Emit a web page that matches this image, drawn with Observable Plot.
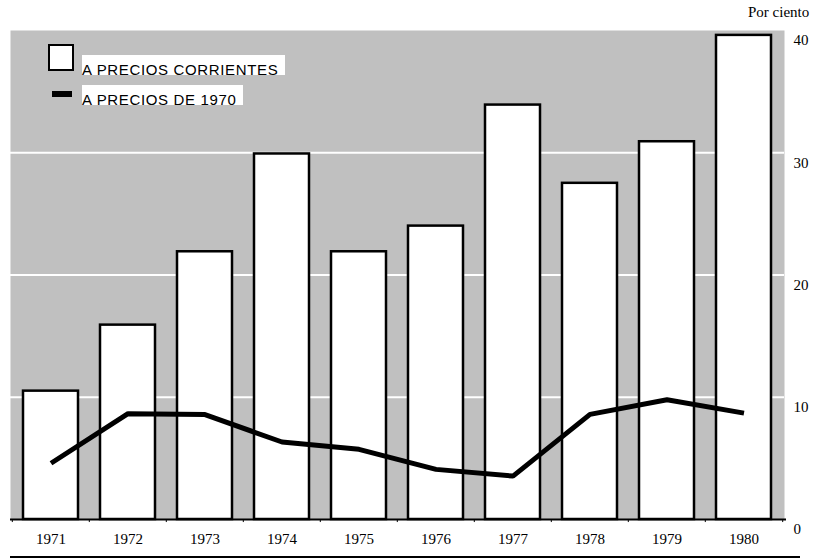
<!DOCTYPE html>
<html>
<head>
<meta charset="utf-8">
<script src="https://cdn.jsdelivr.net/npm/d3@7"></script>
<script src="https://cdn.jsdelivr.net/npm/@observablehq/plot@0.6"></script>
<style>
  html, body { margin: 0; padding: 0; background: #fff; }
  #wrap { position: relative; width: 815px; height: 558px; overflow: hidden; }
  #wrap svg { position: absolute; left: 0; top: 0; }
  .unit { position: absolute; left: 748px; top: 4px; font-family: "Liberation Serif", serif; font-size: 15px; color: #000; }
  .lg-box { position: absolute; left: 48px; top: 44px; width: 22px; height: 23px; border: 2px solid #000; background: #fff; }
  .lg-dash { position: absolute; left: 52px; top: 91px; width: 20px; height: 6px; background: #000; }
  .lg-text { position: absolute; left: 82px; background: #fff; font-family: "Liberation Sans", Arial, sans-serif; font-size: 15px; letter-spacing: 0.65px; line-height: 20px; padding-top: 5px; height: 15px; color: #000; padding-right: 7px; white-space: nowrap; }
  .bottom-line { position: absolute; left: 10px; top: 556px; width: 790px; height: 1.5px; background: #000; }
</style>
</head>
<body>
<div id="wrap">
  <div class="unit">Por ciento</div>
</div>
<script>
const years = ["1971","1972","1973","1974","1975","1976","1977","1978","1979","1980"];
const corrientes = [10.5, 15.9, 21.9, 29.9, 21.9, 24.0, 33.9, 27.5, 30.9, 39.6];
const precios1970 = [4.6, 8.66, 8.58, 6.34, 5.74, 4.1, 3.55, 8.6, 9.8, 8.7];
const yTicks = [0, 10, 20, 30, 40];
const gridTicks = [10, 20, 30];
const legendLabels = ["A PRECIOS CORRIENTES", "A PRECIOS DE 1970"];

const bars = years.map((y, i) => ({year: y, value: corrientes[i]}));
const line = years.map((y, i) => ({year: y, value: precios1970[i]}));

const W = 815, H = 558;
const mL = 10, mR = 31, mT = 30, mB = 39;
const step = (W - mL - mR) / years.length;
const boundaries = years.map((y, i) => ({year: y, off: -step / 2})).concat([{year: years[years.length - 1], off: step / 2}]);

const chart = Plot.plot({
  width: W,
  height: H,
  marginLeft: mL,
  marginRight: mR,
  marginTop: mT,
  marginBottom: mB,
  style: {background: "transparent", overflow: "visible"},
  x: {type: "band", domain: years, paddingInner: 0.28, paddingOuter: 0.14, label: null},
  y: {domain: [0, 40], label: null},
  marks: [
    Plot.frame({fill: "#c0c0c0", stroke: "none"}),
    Plot.gridY(gridTicks, {stroke: "#fff", strokeOpacity: 1, strokeWidth: 2}),
    Plot.barY(bars, {x: "year", y: "value", fill: "#fff", stroke: "#000", strokeWidth: 2.5}),
    Plot.line(line, {x: "year", y: "value", stroke: "#000", strokeWidth: 5, strokeLinejoin: "miter", strokeLinecap: "butt"}),
    Plot.ruleY([0], {stroke: "#000", strokeWidth: 2, insetRight: -2}),
    Plot.ruleX(boundaries.slice(0, -1), {x: "year", dx: -step / 2, y1: 0, y2: -0.25, stroke: "#000", strokeWidth: 1}),
    Plot.ruleX(boundaries.slice(-1), {x: "year", dx: step / 2, y1: 0, y2: -0.25, stroke: "#000", strokeWidth: 1}),
    Plot.axisX({tickSize: 0, tickPadding: 14, fontFamily: "Liberation Serif, serif", fontSize: 15, label: null}),
    Plot.axisY({anchor: "right", ticks: yTicks, tickSize: 0, tickPadding: 9, dy: 10, fontFamily: "Liberation Serif, serif", fontSize: 15, label: null})
  ]
});
chart.style.color = "#000";
const wrap = document.getElementById("wrap");
wrap.insertBefore(chart, wrap.firstChild);

const box = document.createElement("div"); box.className = "lg-box"; wrap.appendChild(box);
const dash = document.createElement("div"); dash.className = "lg-dash"; wrap.appendChild(dash);
const t1 = document.createElement("div"); t1.className = "lg-text"; t1.style.top = "55px"; t1.textContent = legendLabels[0]; wrap.appendChild(t1);
const t2 = document.createElement("div"); t2.className = "lg-text"; t2.style.top = "85px"; t2.textContent = legendLabels[1]; wrap.appendChild(t2);
const bl = document.createElement("div"); bl.className = "bottom-line"; wrap.appendChild(bl);
</script>
</body>
</html>
